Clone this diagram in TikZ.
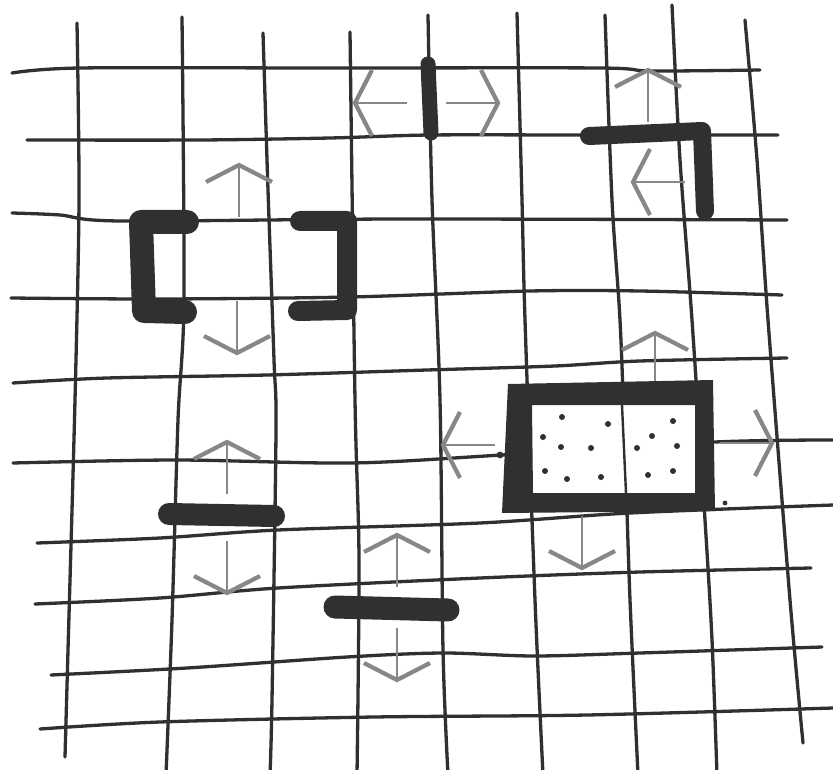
\documentclass[tikz,border=0pt]{standalone}
\usepackage{xcolor}
\usepackage{tikz}
\usetikzlibrary{calc}
\definecolor{inkdark}{RGB}{48, 48, 48}
\definecolor{arrowgray}{RGB}{135, 135, 135}

\tikzset{
  gridline/.style={draw=inkdark, line width=3.3pt, line cap=round, line join=round},
  wallbar/.style={draw=inkdark, line width=#1, line cap=round, line join=round},
  shaft/.style={draw=arrowgray, line width=2.3pt},
  chevron/.style={draw=arrowgray, line width=4.2pt, line join=miter},
  shiftarrow/.pic={
    \draw[shaft] (0,0) -- (0,52);
    \draw[chevron] (-33,17) -- (0,0) -- (33,17);
  }
}

\begin{document}
\begin{tikzpicture}[x=1pt, y=-1pt]
    \useasboundingbox (0,0) rectangle (833,770);
    \fill[white] (0,0) rectangle (833,770);
    \clip (0,0) rectangle (833,770);

    % hand drawn grid, rows then columns
    \draw[gridline] plot[smooth, tension=0.5] coordinates {(12,73) (80,68) (330,68) (600,68) (650,71) (760,70)};
    \draw[gridline] plot[smooth, tension=0.5] coordinates {(27,140) (200,140) (330,138) (430,135) (580,135) (778,135)};
    \draw[gridline] plot[smooth, tension=0.5] coordinates {(12,213) (60,215) (120,221) (400,219) (787,220)};
    \draw[gridline] plot[smooth, tension=0.5] coordinates {(11,298) (160,299) (350,297) (530,291) (640,291) (782,295)};
    \draw[gridline] plot[smooth, tension=0.5] coordinates {(13,383) (107,378) (267,375) (427,370) (555,366) (640,361) (787,358)};
    \draw[gridline] plot[smooth, tension=0.5] coordinates {(13,463) (176,460) (352,463) (502,455) (715,442) (833,440)};
    \draw[gridline] plot[smooth, tension=0.5] coordinates {(37,543) (160,538) (278,530) (480,523) (630,513) (833,505)};
    \draw[gridline] plot[smooth, tension=0.5] coordinates {(35,604) (160,598) (278,588) (480,578) (640,572) (811,568)};
    \draw[gridline] plot[smooth, tension=0.5] coordinates {(51,675) (187,668) (347,657) (443,653) (534,656) (640,653) (822,647)};
    \draw[gridline] plot[smooth, tension=0.5] coordinates {(40,729) (160,722) (374,717) (587,715) (833,708)};

    \draw[gridline] plot[smooth, tension=0.5] coordinates {(77,23) (79,200) (75,400) (68,650) (65,757)};
    \draw[gridline] plot[smooth, tension=0.5] coordinates {(182,17) (184,300) (178,420) (172,620) (166,775)};
    \draw[gridline] plot[smooth, tension=0.5] coordinates {(263,33) (268,190) (274,360) (276,430) (272,700) (270,775)};
    \draw[gridline] plot[smooth, tension=0.5] coordinates {(350,32) (355,400) (359,560) (357,775)};
    \draw[gridline] plot[smooth, tension=0.5] coordinates {(428,15) (432,200) (440,400) (443,650) (448,775)};
    \draw[gridline] plot[smooth, tension=0.5] coordinates {(517,13) (522,200) (525,320) (535,600) (543,775)};
    \draw[gridline] plot[smooth, tension=0.5] coordinates {(605,15) (612,200) (620,320) (625,450) (630,600) (638,775)};
    \draw[gridline] plot[smooth, tension=0.5] coordinates {(672,5) (680,160) (692,320) (705,520) (712,640) (717,775)};
    \draw[gridline] plot[smooth, tension=0.5] coordinates {(745,20) (757,160) (768,320) (790,600) (803,743)};

    % possible shifts
    \foreach \px/\py/\turn in {355/103/90, 498/103/-90, 648/70/0, 633/182/90,
        239/165/0, 237/353/180, 227/442/0, 227/593/180, 397/535/0, 397/680/180,
        655/333/0, 443/445/90, 772/443/-90, 582/568/180}
        \pic[rotate=\turn] at (\px,\py) {shiftarrow};

    % walls
    \draw[wallbar=15pt] (428,64) -- (431,133);
    \draw[wallbar=18pt] (589,136) -- (702,131) -- (705,211);
    \draw[wallbar=24pt] (187,222) -- (141,222) -- (144,311) -- (185,312);
    \draw[wallbar=20pt] (300,221) -- (347,221) -- (347,310) -- (298,311);
    \draw[wallbar=22pt] (169,514) -- (274,516);
    \draw[wallbar=23pt] (335,607) -- (448,610);

    % block with dotted fill
    \fill[white] (532,405) rectangle (695,493);
    \draw[gridline, line width=2.4pt] (622,405) -- (626,493);
    \fill[inkdark, even odd rule] (508,384) -- (713,380) -- (715,511) -- (502,513) -- cycle
        (532,405) -- (695,405) -- (695,493) -- (533,493) -- cycle;
    \foreach \dx/\dy in {562/417, 608/424, 543/437, 561/447, 591/448, 545/471, 567/479, 601/477,
        673/421, 652/436, 637/448, 677/446, 648/475, 673/471}
        \fill[inkdark] (\dx,\dy) circle (3pt);
    \fill[inkdark] (725,503) circle (2.4pt);
    \fill[inkdark] (500,455) circle (3.4pt);
\end{tikzpicture}
\end{document}
